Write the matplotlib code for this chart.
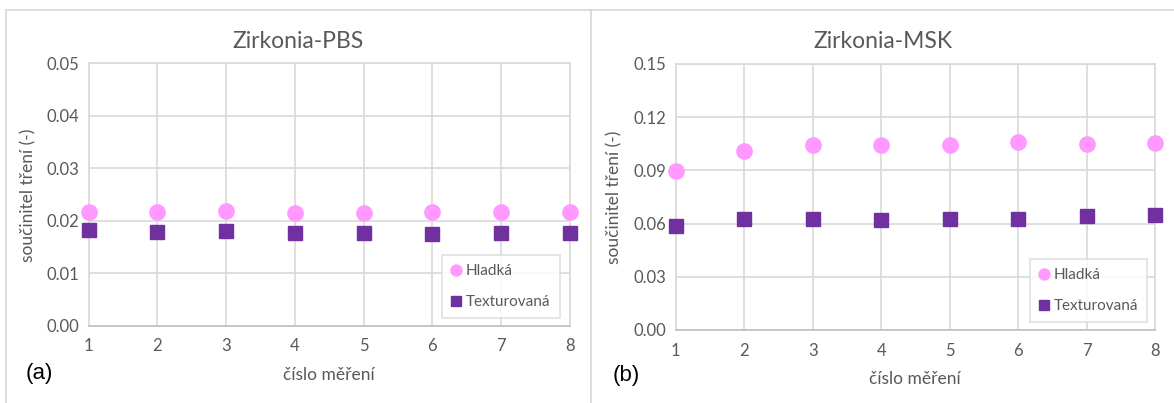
import matplotlib
matplotlib.use("Agg")
import matplotlib.pyplot as plt
from matplotlib.lines import Line2D

plt.rcParams['font.family'] = ['Lato', 'DejaVu Sans']

# ---- data ----
measurements = [1, 2, 3, 4, 5, 6, 7, 8]

pbs_hladka = [0.0217, 0.0216, 0.0219, 0.0215, 0.0215, 0.0216, 0.0216, 0.0216]
pbs_textur = [0.0182, 0.0178, 0.0180, 0.0177, 0.0177, 0.0175, 0.0177, 0.0177]

msk_hladka = [0.0898, 0.1009, 0.1045, 0.1045, 0.1045, 0.1060, 0.1051, 0.1056]
msk_textur = [0.0588, 0.0624, 0.0624, 0.0618, 0.0628, 0.0628, 0.0643, 0.0648]

pbs_yticks = [0.00, 0.01, 0.02, 0.03, 0.04, 0.05]
msk_yticks = [0.00, 0.03, 0.06, 0.09, 0.12, 0.15]

titles = ["Zirkonia-PBS", "Zirkonia-MSK"]
series_names = ["Hladká", "Texturovaná"]
xlabel = "číslo měření"
ylabel = "součinitel tření (-)"
panel_labels = ["(a)", "(b)"]

# ---- style ----
W, H = 1174, 403
PINK = "#FF99FF"
PURPLE = "#7030A0"
TXT = "#595959"
GRID = "#D9D9D9"

fig = plt.figure(figsize=(W / 100, H / 100), dpi=100)


def px_axes(x0, y0, x1, y1):
    return fig.add_axes([x0 / W, 1 - y1 / H, (x1 - x0) / W, (y1 - y0) / H])


# chart area borders
def fig_line(xs, ys):
    fig.add_artist(Line2D([x / W for x in xs], [1 - y / H for y in ys],
                          color=GRID, lw=1.3, transform=fig.transFigure))

fig_line([5.7, W], [10, 10])
fig_line([5.7, 5.7], [10, H])
fig_line([591, 591], [10, H])

panels = [
    dict(rect=(88.6, 63.3, 569.7, 325.7), h=pbs_hladka, t=pbs_textur,
         yt=pbs_yticks, fmt="{:.2f}", leg=(0.979, 0.029),
         title_xy=(298.5, 42), xl_xy=(328.6, 375), yl_xy=(28, 195), pl_xy=(26, 374)),
    dict(rect=(675.9, 64.0, 1155.0, 330.0), h=msk_hladka, t=msk_textur,
         yt=msk_yticks, fmt="{:.2f}", leg=(0.984, 0.030),
         title_xy=(883, 42), xl_xy=(915, 379), yl_xy=(614, 197), pl_xy=(613, 375)),
]

for i, p in enumerate(panels):
    ax = px_axes(*p["rect"])
    ax.set_xlim(measurements[0], measurements[-1])
    ax.set_ylim(p["yt"][0], p["yt"][-1])
    ax.set_xticks(measurements)
    ax.set_xticklabels([str(m) for m in measurements])
    ax.set_yticks(p["yt"])
    ax.set_yticklabels([p["fmt"].format(v) for v in p["yt"]])
    ax.grid(True, color=GRID, lw=1.2)
    ax.set_axisbelow(True)
    for s in ["top", "right", "left"]:
        ax.spines[s].set_color(GRID)
        ax.spines[s].set_linewidth(1.2)
    ax.spines["bottom"].set_color("#BFBFBF")
    ax.spines["bottom"].set_linewidth(1.2)
    ax.tick_params(length=0, labelsize=12, labelcolor=TXT, pad=7)
    ax.tick_params(axis='x', pad=9)

    ax.plot(measurements, p["h"], linestyle="none", marker="o", ms=11,
            color=PINK, mec=PINK, clip_on=False, zorder=3, label=series_names[0])
    ax.plot(measurements, p["t"], linestyle="none", marker="s", ms=10.5,
            color=PURPLE, mec=PURPLE, clip_on=False, zorder=3, label=series_names[1])

    leg = ax.legend(loc="lower right", bbox_to_anchor=p["leg"], frameon=True,
                    fancybox=False, edgecolor=GRID, fontsize=11,
                    labelcolor=TXT, handlelength=0.6, handletextpad=0.35,
                    labelspacing=1.1, borderpad=0.6, markerscale=0.72,
                    borderaxespad=0)
    leg.get_frame().set_linewidth(1.2)

    tx, ty = p["title_xy"]
    fig.text(tx / W, 1 - ty / H, titles[i], ha="center", va="center",
             fontsize=16.5, color=TXT)
    xx, xy = p["xl_xy"]
    fig.text(xx / W, 1 - xy / H, xlabel, ha="center", va="center",
             fontsize=12.5, color=TXT)
    yx, yy = p["yl_xy"]
    fig.text(yx / W, 1 - yy / H, ylabel, ha="center", va="center",
             rotation=90, fontsize=12.5, color=TXT)
    lx, ly = p["pl_xy"]
    fig.text(lx / W, 1 - ly / H, panel_labels[i], ha="left", va="center",
             fontsize=16, color="black", family="Liberation Sans")

fig.savefig("out.png", dpi=100, facecolor="white")
